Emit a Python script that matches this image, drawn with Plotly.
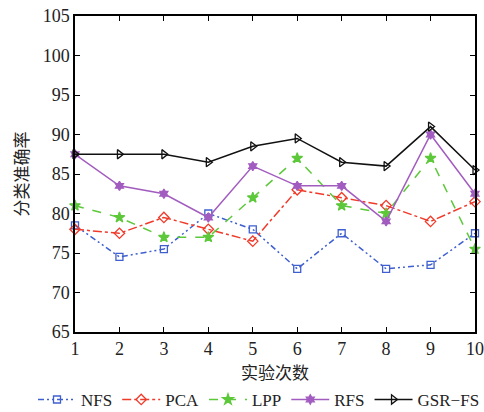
import plotly.graph_objects as go

runs = [1, 2, 3, 4, 5, 6, 7, 8, 9, 10]
nfs = [78.5, 74.5, 75.5, 80.0, 78.0, 73.0, 77.5, 73.0, 73.5, 77.5]
pca = [78.0, 77.5, 79.5, 78.0, 76.5, 83.0, 82.0, 81.0, 79.0, 81.5]
lpp = [81.0, 79.5, 77.0, 77.0, 82.0, 87.0, 81.0, 80.0, 87.0, 75.5]
rfs = [87.5, 83.5, 82.5, 79.5, 86.0, 83.5, 83.5, 79.0, 90.0, 82.5]
gsr = [87.5, 87.5, 87.5, 86.5, 88.5, 89.5, 86.5, 86.0, 91.0, 85.5]

series = [
    ("NFS", nfs, "#3f5fcf", "6px,3px,2px,3px,2px,3px", "square-open", 7),
    ("PCA", pca, "#f03a2a", "dashdot", "diamond-open", 8),
    ("LPP", lpp, "#5cc83a", "dash", "star", 8),
    ("RFS", rfs, "#a25cc0", "solid", "hexagram", 7),
    ("GSR−FS", gsr, "#111111", "solid", "triangle-right-open", 8),
]

fig = go.Figure()
for name, vals, col, dash, sym, size in series:
    fig.add_trace(go.Scatter(
        x=runs, y=vals, name=name, mode="lines+markers",
        line=dict(color=col, width=1.5, dash=dash),
        marker=dict(symbol=sym, size=size, color=col,
                    line=dict(color=col, width=1.3)),
        cliponaxis=False,
    ))

serif = "Liberation Serif, Times New Roman, serif"
axis_common = dict(
    showline=True, linecolor="black", linewidth=1.5, mirror="ticks",
    ticks="inside", ticklen=5, tickcolor="black", tickwidth=1,
    showgrid=False, zeroline=False, automargin=False,
    tickfont=dict(family=serif, size=18, color="#222"),
)

fig.update_layout(
    width=484, height=412,
    margin=dict(l=75, r=9, t=16, b=80, autoexpand=False),
    paper_bgcolor="white", plot_bgcolor="white",
    xaxis=dict(range=[1, 10], tickvals=runs, **axis_common,
               title=dict(text="实验次数", standoff=8,
                          font=dict(family="Noto Sans CJK SC", size=17, color="#222"))),
    yaxis=dict(range=[65, 105], tickvals=[65, 70, 75, 80, 85, 90, 95, 100, 105], **axis_common,
               title=dict(text="分类准确率", standoff=10,
                          font=dict(family="Noto Sans CJK SC", size=17, color="#222"))),
    legend=dict(orientation="h", x=-0.105, xanchor="left", y=-0.158, yanchor="top",
                font=dict(family=serif, size=17, color="#222"),
                itemwidth=38, tracegroupgap=0,
                bgcolor="rgba(0,0,0,0)"),
    showlegend=True,
)

fig.write_html("out.html")
